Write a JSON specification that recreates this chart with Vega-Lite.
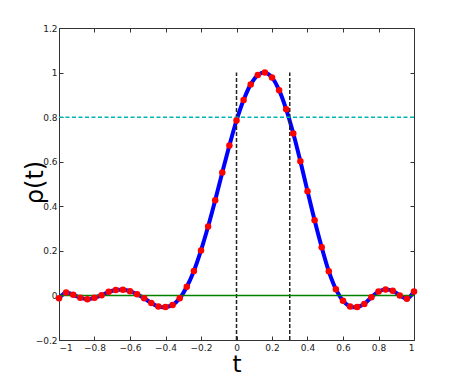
{
  "$schema": "https://vega.github.io/schema/vega-lite/v6.json",
  "width": 355,
  "height": 312,
  "autosize": "none",
  "padding": {"left": 59, "top": 28, "right": 43, "bottom": 43},
  "background": "white",
  "config": {
    "view": {"stroke": "#333333", "strokeWidth": 1},
    "axis": {
      "grid": false,
      "domain": false,
      "labelFont": "DejaVu Sans",
      "labelFontSize": 9,
      "labelColor": "#222222",
      "tickColor": "#333333",
      "tickSize": -4,
      "tickWidth": 1,
      "titleFont": "DejaVu Sans",
      "titleFontWeight": "normal",
      "titleColor": "#000000"
    }
  },
  "datasets": {
    "rho": [
      {"t": -1.00, "r": -0.013}, {"t": -0.96, "r": 0.013}, {"t": -0.92, "r": 0.003},
      {"t": -0.88, "r": -0.010}, {"t": -0.84, "r": -0.017}, {"t": -0.80, "r": -0.010},
      {"t": -0.76, "r": 0.001}, {"t": -0.72, "r": 0.016}, {"t": -0.68, "r": 0.024},
      {"t": -0.64, "r": 0.025}, {"t": -0.60, "r": 0.019}, {"t": -0.56, "r": 0.005},
      {"t": -0.52, "r": -0.013}, {"t": -0.48, "r": -0.034}, {"t": -0.44, "r": -0.050},
      {"t": -0.40, "r": -0.052}, {"t": -0.36, "r": -0.043}, {"t": -0.32, "r": -0.013},
      {"t": -0.28, "r": 0.039}, {"t": -0.24, "r": 0.110}, {"t": -0.20, "r": 0.202},
      {"t": -0.16, "r": 0.309}, {"t": -0.12, "r": 0.427}, {"t": -0.08, "r": 0.552},
      {"t": -0.04, "r": 0.673}, {"t": 0.00, "r": 0.785}, {"t": 0.04, "r": 0.877},
      {"t": 0.08, "r": 0.947}, {"t": 0.12, "r": 0.989}, {"t": 0.16, "r": 1.000},
      {"t": 0.20, "r": 0.978}, {"t": 0.24, "r": 0.921}, {"t": 0.28, "r": 0.835},
      {"t": 0.32, "r": 0.727}, {"t": 0.36, "r": 0.602}, {"t": 0.40, "r": 0.468},
      {"t": 0.44, "r": 0.337}, {"t": 0.48, "r": 0.216}, {"t": 0.52, "r": 0.108},
      {"t": 0.56, "r": 0.028}, {"t": 0.60, "r": -0.024}, {"t": 0.64, "r": -0.050},
      {"t": 0.68, "r": -0.052}, {"t": 0.72, "r": -0.038}, {"t": 0.76, "r": -0.008},
      {"t": 0.80, "r": 0.018}, {"t": 0.84, "r": 0.027}, {"t": 0.88, "r": 0.021},
      {"t": 0.92, "r": 0.000}, {"t": 0.96, "r": -0.015}, {"t": 1.00, "r": 0.018}
    ],
    "zero": [{"t": -1, "r": 0}, {"t": 1, "r": 0}],
    "thr": [{"t": -1, "r": 0.8}, {"t": 1, "r": 0.8}],
    "vl": [{"t": 0, "r": -0.2, "r2": 1.0}, {"t": 0.3, "r": -0.2, "r2": 1.0}]
  },
  "resolve": {"axis": {"x": "independent", "y": "independent"}},
  "layer": [
    {
      "data": {"name": "rho"},
      "mark": {"type": "line", "color": "#0000ff", "strokeWidth": 4, "interpolate": "catmull-rom", "clip": true},
      "encoding": {
        "x": {"field": "t", "type": "quantitative", "scale": {"domain": [-1, 1], "nice": false, "zero": false},
          "axis": {"orient": "bottom", "values": [-1, -0.8, -0.6, -0.4, -0.2, 0, 0.2, 0.4, 0.6, 0.8, 1], "labelPadding": 7,
            "format": "~g",
            "labelExpr": "replace(datum.label, '-', '−')",
            "title": "t", "titleFontSize": 23, "titleBaseline": "alphabetic", "titleY": 31}},
        "y": {"field": "r", "type": "quantitative", "scale": {"domain": [-0.2, 1.2], "nice": false, "zero": false},
          "axis": {"orient": "left", "values": [-0.2, 0, 0.2, 0.4, 0.6, 0.8, 1, 1.2], "labelPadding": 6,
            "format": "~g",
            "labelExpr": "replace(datum.label, '-', '−')",
            "title": "ρ(t)", "titleFontSize": 24, "titleBaseline": "bottom", "titleX": -12, "titleY": 154}}
      }
    },
    {
      "data": {"name": "vl"},
      "mark": {"type": "rule", "color": "#222222", "strokeWidth": 1.5, "strokeDash": [4, 2]},
      "encoding": {
        "x": {"field": "t", "type": "quantitative",
          "axis": {"orient": "top", "values": [-1, -0.8, -0.6, -0.4, -0.2, 0, 0.2, 0.4, 0.6, 0.8, 1], "labels": false, "title": null}},
        "y": {"field": "r", "type": "quantitative",
          "axis": {"orient": "right", "values": [-0.2, 0, 0.2, 0.4, 0.6, 0.8, 1, 1.2], "labels": false, "title": null}},
        "y2": {"field": "r2"}
      }
    },
    {
      "data": {"name": "thr"},
      "mark": {"type": "line", "color": "#00b5b5", "strokeWidth": 1.5, "strokeDash": [4, 2.5]},
      "encoding": {
        "x": {"field": "t", "type": "quantitative", "axis": null},
        "y": {"field": "r", "type": "quantitative", "axis": null}
      }
    },
    {
      "data": {"name": "zero"},
      "mark": {"type": "line", "color": "#008000", "strokeWidth": 1.5},
      "encoding": {
        "x": {"field": "t", "type": "quantitative", "axis": null},
        "y": {"field": "r", "type": "quantitative", "axis": null}
      }
    },
    {
      "data": {"name": "rho"},
      "mark": {"type": "point", "filled": true, "shape": "circle", "color": "#ff0000", "opacity": 1, "size": 42},
      "encoding": {
        "x": {"field": "t", "type": "quantitative", "axis": null},
        "y": {"field": "r", "type": "quantitative", "axis": null}
      }
    }
  ]
}
